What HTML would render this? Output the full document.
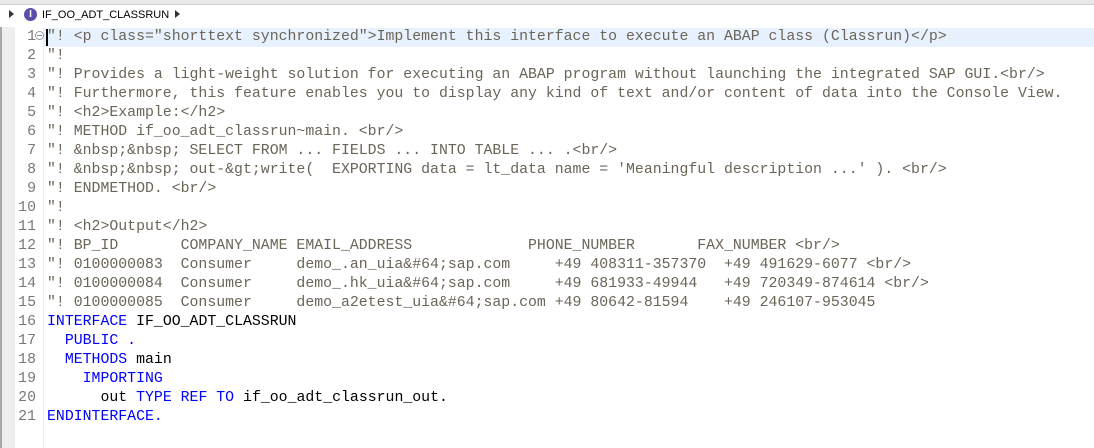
<!DOCTYPE html>
<html><head><meta charset="utf-8"><style>
body{margin:0;width:1094px;height:448px;overflow:hidden;background:#fff;font-family:"Liberation Sans",sans-serif;position:relative}
.top{position:absolute;left:0;top:0;width:1094px;height:4px;background:#e8e8e8;border-bottom:1px solid #d0d0d0}
.crumb{position:absolute;left:0;top:5px;height:22px;width:1094px;font-size:11px;color:#000}
.lb{position:absolute;left:0;top:27px;width:15px;height:421px;background:#eeeeee;border-left:2px solid #a8a8a8;box-sizing:border-box}
.sep{position:absolute;left:43px;top:27px;width:1px;height:421px;background:#ececec}
.hl{position:absolute;left:44px;top:28px;width:1050px;height:19px;background:#e8f2fe}
.code{position:absolute;left:0;top:28px;font-family:"Liberation Mono","DejaVu Sans Mono",monospace;font-size:14.85px;line-height:19px;white-space:pre}
.ln{position:absolute;left:15px;width:21px;text-align:right;color:#787878}
.tx{position:absolute;left:47px;top:0;color:#6b6558}
.k{color:#0000ff}.b{color:#000}
</style></head><body>
<div class="top"></div>
<div class="crumb">
<span style="position:absolute;left:9px;top:5px;width:0;height:0;border-left:5px solid #333;border-top:4px solid transparent;border-bottom:4px solid transparent"></span>
<span style="position:absolute;left:24px;top:3px;width:13px;height:13px;border-radius:50%;background:#5a4fa8;color:#fff;font-size:10px;font-weight:bold;text-align:center;line-height:13px">I</span>
<span style="position:absolute;left:42px;top:4px">IF_OO_ADT_CLASSRUN</span>
<span style="position:absolute;left:175px;top:5px;width:0;height:0;border-left:5px solid #333;border-top:4px solid transparent;border-bottom:4px solid transparent"></span>
</div>
<div class="lb"></div><div class="sep"></div><div class="hl"></div>
<div style="position:absolute;left:46px;top:29px;width:2px;height:17px;background:#000"></div>
<div style="position:absolute;left:35px;top:31px;width:7px;height:7px;border:1px solid #999;border-radius:50%;font-size:0"><div style="position:absolute;left:1px;top:3px;width:5px;height:1px;background:#888"></div></div>
<div class="code"><div class="ln" style="top:0">1</div><div class="ln" style="top:19px">2</div><div class="ln" style="top:38px">3</div><div class="ln" style="top:57px">4</div><div class="ln" style="top:76px">5</div><div class="ln" style="top:95px">6</div><div class="ln" style="top:114px">7</div><div class="ln" style="top:133px">8</div><div class="ln" style="top:152px">9</div><div class="ln" style="top:171px">10</div><div class="ln" style="top:190px">11</div><div class="ln" style="top:209px">12</div><div class="ln" style="top:228px">13</div><div class="ln" style="top:247px">14</div><div class="ln" style="top:266px">15</div><div class="ln" style="top:285px">16</div><div class="ln" style="top:304px">17</div><div class="ln" style="top:323px">18</div><div class="ln" style="top:342px">19</div><div class="ln" style="top:361px">20</div><div class="ln" style="top:380px">21</div><div class="tx">"! &lt;p class="shorttext synchronized"&gt;Implement this interface to execute an ABAP class (Classrun)&lt;/p&gt;
"!
"! Provides a light-weight solution for executing an ABAP program without launching the integrated SAP GUI.&lt;br/&gt;
"! Furthermore, this feature enables you to display any kind of text and/or content of data into the Console View.
"! &lt;h2&gt;Example:&lt;/h2&gt;
"! METHOD if_oo_adt_classrun~main. &lt;br/&gt;
"! &amp;nbsp;&amp;nbsp; SELECT FROM ... FIELDS ... INTO TABLE ... .&lt;br/&gt;
"! &amp;nbsp;&amp;nbsp; out-&amp;gt;write(  EXPORTING data = lt_data name = 'Meaningful description ...' ). &lt;br/&gt;
"! ENDMETHOD. &lt;br/&gt;
"!
"! &lt;h2&gt;Output&lt;/h2&gt;
"! BP_ID       COMPANY_NAME EMAIL_ADDRESS             PHONE_NUMBER       FAX_NUMBER &lt;br/&gt;
"! 0100000083  Consumer     demo_.an_uia&amp;#64;sap.com     +49 408311-357370  +49 491629-6077 &lt;br/&gt;
"! 0100000084  Consumer     demo_.hk_uia&amp;#64;sap.com     +49 681933-49944   +49 720349-874614 &lt;br/&gt;
"! 0100000085  Consumer     demo_a2etest_uia&amp;#64;sap.com +49 80642-81594    +49 246107-953045
<span class="k">INTERFACE</span> <span class="b">IF_OO_ADT_CLASSRUN</span>
  <span class="k">PUBLIC .</span>
  <span class="k">METHODS</span> <span class="b">main</span>
    <span class="k">IMPORTING</span>
      <span class="b">out</span> <span class="k">TYPE REF TO</span> <span class="b">if_oo_adt_classrun_out.</span>
<span class="k">ENDINTERFACE.</span></div></div>
</body></html>
